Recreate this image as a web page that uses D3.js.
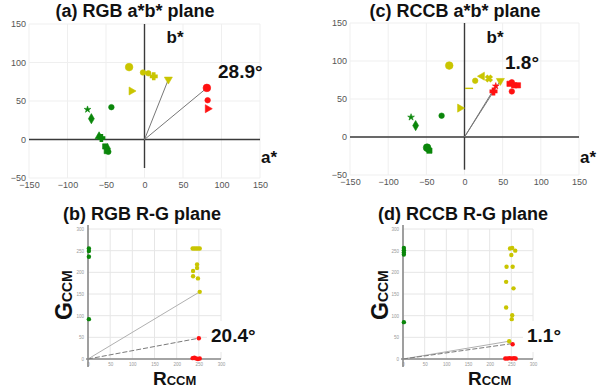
<!DOCTYPE html>
<html>
<head>
<meta charset="utf-8">
<script src="https://cdn.jsdelivr.net/npm/d3@7"></script>
<style>
  body { margin: 0; background: #fff; }
  text { font-family: "Liberation Sans", Arial, sans-serif; }
</style>
</head>
<body>
<div id="chart"></div>
<script>
// chart values: [x, y, marker]
let rgbAbGreen = [[-74, 39, "star"], [-69, 27, "diamond"], [-43, 42, "circle"], [-59, 4, "triangle"],
  [-56, 2, "cross"], [-51, -9, "square"], [-48, -12, "diamond"], [-47, -16, "circle"], [-49, -15, "square"]];
let rgbAbYellow = [[-20, 94, "bigcircle"], [-2, 87, "circle"], [5, 86, "circle"], [12, 82, "cross"],
  [31, 78, "tridown"], [-17, 63, "triright"]];
let rgbAbRed = [[81, 67, "bigcircle"], [82, 51, "circle"], [82, 40, "triright"]];
let rgbAbLines = [[31, 78], [81, 67]];

let rccbAbGreen = [[-70, 26, "star"], [-64, 15, "diamond"], [-30, 28, "circle"], [-49, -14, "bigcircle"],
  [-46, -18, "square"], [-48, -16, "circle"]];
let rccbAbYellow = [[-20, 94, "bigcircle"], [14, 74, "circle"], [23, 80, "trileft"], [32, 77, "x"],
  [47, 74, "tridown"], [6, 64, "dash"], [-6, 38, "triright"]];
let rccbAbRed = [[41, 67, "star"], [38, 60, "cross"], [59, 70, "square"], [62, 72, "circle"],
  [65, 68, "square"], [70, 68, "square"], [62, 60, "circle"]];
let rccbAbLines = [[47, 74], [41, 67]];

let rgbRgGreen = [[2, 255], [2, 249], [2, 236], [2, 92]];
let rgbRgYellow = [[236, 255], [240, 255], [244, 255], [248, 255], [252, 255], [246, 218], [246, 210],
  [237, 203], [237, 191], [248, 186], [252, 155]];
let rgbRgRed = [[236, 2], [240, 3], [244, 1], [248, 0], [252, 1], [250, 48]];
let rgbRgLines = [[252, 155], [250, 48]];

let rccbRgGreen = [[2, 256], [2, 251], [2, 246], [2, 241], [2, 85]];
let rccbRgYellow = [[247, 255], [252, 256], [259, 250], [250, 240], [239, 213], [253, 213], [238, 178],
  [255, 163], [238, 119], [252, 101], [251, 92], [245, 41]];
let rccbRgRed = [[253, 34], [236, 1], [241, 1], [246, 2], [251, 1], [256, 2], [260, 1]];
let rccbRgLines = [[245, 41], [255, 36]];

let abTicks = [-150, -100, -50, 0, 50, 100, 150];
let abYTicks = [-50, 0, 50, 100, 150];
let rgTicks = [0, 50, 100, 150, 200, 250, 300];

let green = "#0a860a", yellow = "#c9c500", red = "#ff1010";

let svg = d3.select("#chart").append("svg")
  .attr("width", 603)
  .attr("height", 391);
svg.append("rect").attr("width", 603).attr("height", 391).attr("fill", "#fff");

// marker shapes
function markerPath(m) {
  let type = d3.symbolCircle, size = 24;
  if (m === "bigcircle") size = 46;
  if (m === "diamond") { type = d3.symbolDiamond; size = 30; }
  if (m === "star") { type = d3.symbolStar; size = 14; }
  if (m === "square") { type = d3.symbolSquare; size = 28; }
  if (m === "cross" || m === "x") { type = d3.symbolCross; size = 24; }
  if (m.startsWith("tri")) { type = d3.symbolTriangle; size = 28; }
  return d3.symbol().type(type).size(size)();
}
function markerRot(m) {
  if (m === "tridown") return 180;
  if (m === "triright") return 90;
  if (m === "trileft") return -90;
  if (m === "x") return 45;
  return 0;
}

// a*b* plane panel
function abPanel(opt) {
  let x = d3.scaleLinear().domain([-150, 150]).range(opt.xr);
  let y = d3.scaleLinear().domain([-50, 150]).range(opt.yr);
  let g = svg.append("g");

  // grid
  g.selectAll(".gx").data(abTicks).enter().append("line")
    .attr("x1", d => x(d)).attr("x2", d => x(d))
    .attr("y1", y(150)).attr("y2", y(-50))
    .attr("stroke", "#efefef");
  g.selectAll(".gy").data(abYTicks).enter().append("line")
    .attr("x1", x(-150)).attr("x2", x(150))
    .attr("y1", d => y(d)).attr("y2", d => y(d))
    .attr("stroke", "#efefef");

  // tick labels
  let xAxis = g.append("g").attr("transform", `translate(0,${y(-50) + 1})`)
    .call(d3.axisBottom(x).tickValues(abTicks).tickSize(0).tickPadding(3));
  let yAxis = g.append("g").attr("transform", `translate(${x(-150) - 1},0)`)
    .call(d3.axisLeft(y).tickValues(abYTicks).tickSize(0).tickPadding(2));
  [xAxis, yAxis].forEach(a => {
    a.select(".domain").remove();
    a.selectAll("text").attr("fill", "#555").style("font-size", "9px")
      .style("font-family", "Liberation Sans, Arial, sans-serif");
  });

  // main axes
  g.append("line").attr("x1", x(-150)).attr("x2", x(150))
    .attr("y1", y(0)).attr("y2", y(0)).attr("stroke", "#3a3a3a").attr("stroke-width", 1.4);
  g.append("line").attr("x1", x(0)).attr("x2", x(0))
    .attr("y1", y(150)).attr("y2", y(opt.vEnd)).attr("stroke", "#3a3a3a").attr("stroke-width", 1.4);

  // vectors from origin
  g.selectAll(".vec").data(opt.lines).enter().append("line")
    .attr("x1", x(0)).attr("y1", y(0))
    .attr("x2", d => x(d[0])).attr("y2", d => y(d[1]))
    .attr("stroke", "#777").attr("stroke-width", 1);

  opt.series.forEach(s => {
    g.selectAll(null).data(s.data).enter().append("path")
      .attr("d", d => d[2] === "dash" ? "M-4,0H4" : markerPath(d[2]))
      .attr("transform", d => `translate(${x(d[0])},${y(d[1])}) rotate(${markerRot(d[2])})`)
      .attr("fill", s.color)
      .attr("stroke", s.color)
      .attr("stroke-width", d => (d[2] === "dash" || d[2] === "x" || d[2] === "cross") ? 1.4 : 0.6);
  });

  g.append("text").attr("x", opt.tx).attr("y", 17).attr("text-anchor", "middle")
    .style("font-size", "18px").style("font-weight", "bold").attr("fill", "#111").text(opt.title);
  g.append("text").attr("x", x(0) + 22).attr("y", 43)
    .style("font-size", "17px").style("font-weight", "bold").attr("fill", "#111").text("b*");
  g.append("text").attr("x", x(150) + 1).attr("y", 163)
    .style("font-size", "17px").style("font-weight", "bold").attr("fill", "#111").text("a*");
  g.append("text").attr("x", opt.ax).attr("y", opt.ay)
    .style("font-size", "19px").style("font-weight", "bold").attr("fill", "#111").text(opt.angle);
}

// R-G plane panel
function rgPanel(opt) {
  let x = d3.scaleLinear().domain([0, 300]).range(opt.xr);
  let y = d3.scaleLinear().domain([0, 300]).range([359, 229]);
  let g = svg.append("g");

  g.selectAll(".gx").data(rgTicks).enter().append("line")
    .attr("x1", d => x(d)).attr("x2", d => x(d))
    .attr("y1", y(300)).attr("y2", y(0))
    .attr("stroke", "#e6e6e6");
  g.selectAll(".gy").data(rgTicks).enter().append("line")
    .attr("x1", x(0)).attr("x2", x(300))
    .attr("y1", d => y(d)).attr("y2", d => y(d))
    .attr("stroke", "#e6e6e6");

  let xAxis = g.append("g").attr("transform", `translate(0,${y(0) + 2})`)
    .call(d3.axisBottom(x).tickValues(rgTicks).tickSize(0).tickPadding(2));
  let yAxis = g.append("g").attr("transform", `translate(${x(0) - 3},0)`)
    .call(d3.axisLeft(y).tickValues(rgTicks).tickSize(0).tickPadding(1));
  [xAxis, yAxis].forEach(a => {
    a.select(".domain").remove();
    a.selectAll("text").attr("fill", "#999").style("font-size", "4.5px")
      .style("font-family", "Liberation Sans, Arial, sans-serif");
  });

  // white box behind the angle
  g.append("rect").attr("x", opt.ax - 4).attr("y", 321).attr("width", opt.bw).attr("height", 31).attr("fill", "#fff");

  g.append("line").attr("x1", x(0) - 2).attr("x2", x(300))
    .attr("y1", y(0)).attr("y2", y(0)).attr("stroke", "#8a8a8a").attr("stroke-width", 1.6);
  g.append("line").attr("x1", x(0)).attr("x2", x(0))
    .attr("y1", y(300) - 4).attr("y2", y(0) + 8).attr("stroke", "#8a8a8a").attr("stroke-width", 1.6);

  g.selectAll(".vec").data(opt.lines).enter().append("line")
    .attr("x1", x(0)).attr("y1", y(0))
    .attr("x2", d => x(d[0])).attr("y2", d => y(d[1]))
    .attr("stroke", (d, i) => i === 0 ? "#b0b0b0" : "#7a7a7a")
    .attr("stroke-dasharray", (d, i) => i === 0 ? null : "5,2")
    .attr("stroke-width", 1);

  opt.series.forEach(s => {
    g.selectAll(null).data(s.data).enter().append("circle")
      .attr("cx", d => x(d[0])).attr("cy", d => y(d[1]))
      .attr("r", 2.2)
      .attr("fill", s.color);
  });

  g.append("text").attr("x", opt.tx).attr("y", 220).attr("text-anchor", "middle")
    .style("font-size", "18px").style("font-weight", "bold").attr("fill", "#111").text(opt.title);

  let gl = g.append("text").attr("transform", `translate(${opt.gx},320) rotate(-90)`)
    .style("font-weight", "bold").attr("fill", "#111");
  gl.append("tspan").style("font-size", "23px").text("G");
  gl.append("tspan").style("font-size", "14px").text("CCM");

  let rl = g.append("text").attr("x", opt.rx).attr("y", 385)
    .style("font-weight", "bold").attr("fill", "#111");
  rl.append("tspan").style("font-size", "19px").text("R");
  rl.append("tspan").style("font-size", "13px").text("CCM");

  g.append("text").attr("x", opt.ax).attr("y", 342)
    .style("font-size", "19px").style("font-weight", "bold").attr("fill", "#111").text(opt.angle);
}

abPanel({
  xr: [29, 260], yr: [178, 24], vEnd: -37, tx: 135,
  title: "(a) RGB a*b* plane", angle: "28.9°", ax: 218, ay: 78,
  lines: rgbAbLines,
  series: [{data: rgbAbGreen, color: green}, {data: rgbAbYellow, color: yellow}, {data: rgbAbRed, color: red}]
});
abPanel({
  xr: [350, 579], yr: [175, 23], vEnd: -43, tx: 455,
  title: "(c) RCCB a*b* plane", angle: "1.8°", ax: 505, ay: 69,
  lines: rccbAbLines,
  series: [{data: rccbAbGreen, color: green}, {data: rccbAbYellow, color: yellow}, {data: rccbAbRed, color: red}]
});
rgPanel({
  xr: [88, 221], tx: 142, gx: 72, rx: 153,
  title: "(b) RGB R-G plane", angle: "20.4°", ax: 211, bw: 52,
  lines: rgbRgLines,
  series: [{data: rgbRgGreen, color: green}, {data: rgbRgYellow, color: yellow}, {data: rgbRgRed, color: red}]
});
rgPanel({
  xr: [403, 533], tx: 463, gx: 388, rx: 468,
  title: "(d) RCCB R-G plane", angle: "1.1°", ax: 527, bw: 44,
  lines: rccbRgLines,
  series: [{data: rccbRgGreen, color: green}, {data: rccbRgYellow, color: yellow}, {data: rccbRgRed, color: red}]
});
</script>
</body>
</html>
